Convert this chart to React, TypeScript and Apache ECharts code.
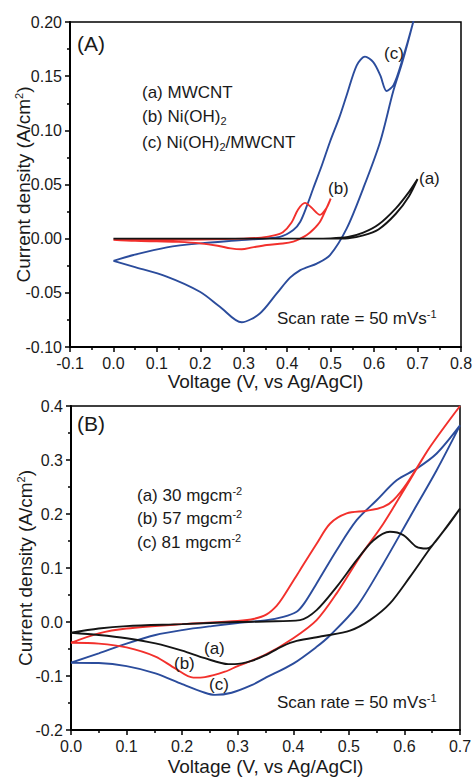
import React, { useEffect, useRef } from "react";
import * as echarts from "echarts";

const FONT = "'Liberation Sans', Arial, Helvetica, sans-serif";
const BLACK = "#151515";
const RED = "#f2302c";
const BLUE = "#2b4c9c";

// ---------- Panel A: axis ticks ----------
const aXTicks = [-0.1, 0.0, 0.1, 0.2, 0.3, 0.4, 0.5, 0.6, 0.7, 0.8];
const aYTicks = [-0.1, -0.05, 0.0, 0.05, 0.1, 0.15, 0.2];

// (a) MWCNT
const aMwcntV = [0, 0.1, 0.2, 0.3, 0.4, 0.5, 0.54, 0.575, 0.61, 0.65, 0.68, 0.7, 0.68, 0.65, 0.61, 0.575, 0.54, 0.5, 0.4, 0.3, 0.2, 0.1, 0];
const aMwcntJ = [0, 0, 0, 0, 0, 0, 0.0003, 0.003, 0.0085, 0.023, 0.039, 0.055, 0.043, 0.028, 0.013, 0.0055, 0.0015, 0.0003, 0, 0, 0, 0, 0];

// (b) Ni(OH)2
const aNiV = [0, 0.1, 0.2, 0.3, 0.34, 0.37, 0.39, 0.41, 0.425, 0.441, 0.455, 0.4755, 0.49, 0.5, 0.488, 0.4755, 0.46, 0.445, 0.43, 0.414, 0.39, 0.353, 0.32, 0.295, 0.27, 0.24, 0.2, 0.15, 0.1, 0.05, 0];
const aNiJ = [-0.001, -0.001, -0.0008, 0, 0.001, 0.003, 0.006, 0.015, 0.027, 0.033, 0.029, 0.022, 0.028, 0.037, 0.026, 0.0157, 0.0085, 0.0034, 0, -0.0028, -0.0045, -0.0058, -0.008, -0.0098, -0.009, -0.0065, -0.0043, -0.003, -0.0025, -0.002, -0.001];

// (c) Ni(OH)2/MWCNT
const aCompV = [0, 0.046, 0.123, 0.2, 0.295, 0.383, 0.414, 0.43, 0.445, 0.46, 0.48, 0.4985, 0.52, 0.537, 0.56, 0.579, 0.598, 0.614, 0.629, 0.645, 0.665, 0.69, 0.705,
  0.69, 0.665, 0.644, 0.614, 0.575, 0.537, 0.4985, 0.468, 0.445, 0.43, 0.4065, 0.376, 0.337, 0.295, 0.245, 0.199, 0.1226, 0.0457, 0];
const aCompJ = [-0.0205, -0.0151, -0.008, -0.0043, -0.0013, 0.0017, 0.008, 0.0157, 0.03, 0.0465, 0.068, 0.0895, 0.112, 0.1326, 0.16, 0.168, 0.163, 0.151, 0.1363, 0.142, 0.165, 0.2, 0.225,
  0.2, 0.163, 0.136, 0.0895, 0.0465, 0.0095, -0.0151, -0.023, -0.0265, -0.029, -0.036, -0.0505, -0.069, -0.0772, -0.0628, -0.049, -0.035, -0.0258, -0.0205];

// ---------- Panel B: axis ticks ----------
const bXTicks = [0.0, 0.1, 0.2, 0.3, 0.4, 0.5, 0.6, 0.7];
const bYTicks = [-0.2, -0.1, 0.0, 0.1, 0.2, 0.3, 0.4];

// (a) 30 mg cm-2
const b30V = [0, 0.05, 0.1, 0.2, 0.3, 0.35, 0.412, 0.442, 0.478, 0.514, 0.544, 0.574, 0.598, 0.622, 0.64, 0.67, 0.7,
  0.67, 0.646, 0.61, 0.574, 0.538, 0.502, 0.454, 0.406, 0.38, 0.349, 0.325, 0.295, 0.283, 0.241, 0.2, 0.152, 0.1, 0.05, 0];
const b30J = [-0.02, -0.012, -0.0076, -0.004, 0, 0.001, 0.0035, 0.022, 0.065, 0.1145, 0.151, 0.167, 0.161, 0.139, 0.136, 0.168, 0.21,
  0.168, 0.136, 0.0836, 0.0344, 0.0035, -0.016, -0.026, -0.035, -0.045, -0.062, -0.072, -0.078, -0.078, -0.067, -0.053, -0.0397, -0.03, -0.024, -0.02];

// (b) 57 mg cm-2
const b57V = [0, 0.05, 0.1, 0.2, 0.3, 0.33, 0.352, 0.37, 0.382, 0.412, 0.442, 0.466, 0.496, 0.532, 0.562, 0.58, 0.604, 0.646, 0.7,
  0.646, 0.61, 0.562, 0.52, 0.478, 0.442, 0.4, 0.349, 0.3, 0.277, 0.241, 0.22, 0.1875, 0.152, 0.1, 0.05, 0];
const b57J = [-0.0385, -0.021, -0.012, -0.004, 0.002, 0.006, 0.014, 0.03, 0.0466, 0.096, 0.145, 0.182, 0.201, 0.206, 0.213, 0.2255, 0.256, 0.324, 0.4,
  0.324, 0.263, 0.182, 0.121, 0.053, 0.0035, -0.03, -0.061, -0.0816, -0.092, -0.102, -0.103, -0.086, -0.064, -0.047, -0.04, -0.0385];

// (c) 81 mg cm-2
const b81V = [0, 0.05, 0.1, 0.152, 0.2, 0.2535, 0.3, 0.349, 0.382, 0.406, 0.42, 0.442, 0.478, 0.514, 0.55, 0.586, 0.622, 0.658, 0.7,
  0.658, 0.61, 0.562, 0.514, 0.466, 0.442, 0.4, 0.349, 0.325, 0.289, 0.259, 0.241, 0.2, 0.152, 0.1, 0.05, 0];
const b81J = [-0.0755, -0.058, -0.04, -0.024, -0.015, -0.0076, -0.002, 0.003, 0.0096, 0.019, 0.035, 0.0714, 0.133, 0.1885, 0.2255, 0.2625, 0.284, 0.312, 0.364,
  0.281, 0.1946, 0.108, 0.028, -0.025, -0.046, -0.077, -0.104, -0.117, -0.131, -0.135, -0.131, -0.115, -0.095, -0.0816, -0.076, -0.0755];

const zip = (v: number[], j: number[]) => v.map((x, i) => [x, j[i]]);

const richStyles = {
  sup: { fontSize: 11, fontFamily: FONT, color: "#1a1a1a", padding: [0, 0, 9, 0] },
  sub: { fontSize: 11, fontFamily: FONT, color: "#1a1a1a", padding: [9, 0, 0, 0] },
};

function xAxisFor(grid: number, ticks: number[], name: string, gap: number) {
  return {
    type: "value",
    gridIndex: grid,
    min: ticks[0],
    max: ticks[ticks.length - 1],
    interval: +(ticks[1] - ticks[0]).toFixed(4),
    name,
    nameLocation: "middle",
    nameGap: gap,
    nameMoveOverlap: false,
    nameTextStyle: { fontFamily: FONT, fontSize: 19, color: "#1a1a1a" },
    axisLine: { show: true, onZero: false, lineStyle: { color: "#000", width: 2 } },
    axisTick: { show: true, inside: false, length: 5, lineStyle: { color: "#000", width: 1.5 } },
    minorTick: { show: true, splitNumber: 2, length: 3, lineStyle: { color: "#000", width: 1.5 } },
    splitLine: { show: false },
    axisLabel: { margin: 8, fontFamily: FONT, fontSize: 16, color: "#1a1a1a", formatter: (v: number) => v.toFixed(1) },
  };
}

function yAxisFor(grid: number, ticks: number[], digits: number, gap: number) {
  return {
    type: "value",
    gridIndex: grid,
    min: ticks[0],
    max: ticks[ticks.length - 1],
    interval: +(ticks[1] - ticks[0]).toFixed(4),
    name: "Current density (A/cm{sup|2})",
    nameLocation: "middle",
    nameRotate: 90,
    nameGap: gap,
    nameMoveOverlap: false,
    nameTextStyle: { fontFamily: FONT, fontSize: 19, color: "#1a1a1a", rich: richStyles },
    axisLine: { show: true, onZero: false, lineStyle: { color: "#000", width: 2 } },
    axisTick: { show: true, inside: false, length: 5, lineStyle: { color: "#000", width: 1.5 } },
    minorTick: { show: true, splitNumber: 2, length: 3, lineStyle: { color: "#000", width: 1.5 } },
    splitLine: { show: false },
    axisLabel: { margin: 8, fontFamily: FONT, fontSize: 16, color: "#1a1a1a", formatter: (v: number) => v.toFixed(digits) },
  };
}

function line(name: string, data: number[][], color: string, xi: number, yi: number) {
  return {
    type: "line",
    name,
    xAxisIndex: xi,
    yAxisIndex: yi,
    data,
    showSymbol: false,
    symbol: "none",
    smooth: 0.3,
    clip: true,
    lineStyle: { color, width: 1.9 },
    z: 3,
  };
}

function txt(x: number, y: number, text: string, size = 17) {
  return {
    type: "text",
    x,
    y,
    z: 10,
    style: {
      text,
      fontFamily: FONT,
      fontSize: size,
      fill: "#1a1a1a",
      verticalAlign: "middle",
      align: "left",
      rich: {
        sup: { fontSize: 11, fontFamily: FONT, fill: "#1a1a1a", padding: [0, 0, 9, 0] },
        sub: { fontSize: 11, fontFamily: FONT, fill: "#1a1a1a", padding: [9, 0, 0, 0] },
        n: { fontSize: size, fontFamily: FONT, fill: "#1a1a1a" },
      },
    },
  };
}

export default function App() {
  const ref = useRef<HTMLDivElement>(null);
  useEffect(() => {
    if (!ref.current) return;
    const chart = echarts.init(ref.current, undefined, { renderer: "svg" });
    chart.setOption({
      animation: false,
      backgroundColor: "#fff",
      grid: [
        { left: 70, top: 22, width: 391, height: 325, show: true, borderColor: "#000", borderWidth: 1.5, outerBoundsMode: "none", containLabel: false },
        { left: 71, top: 406, width: 389, height: 324, show: true, borderColor: "#000", borderWidth: 1.5, outerBoundsMode: "none", containLabel: false },
      ],
      xAxis: [
        xAxisFor(0, aXTicks, "Voltage (V, vs Ag/AgCl)", 25),
        xAxisFor(1, bXTicks, "Voltage (V, vs Ag/AgCl)", 27),
      ],
      yAxis: [yAxisFor(0, aYTicks, 2, 37), yAxisFor(1, bYTicks, 1, 36)],
      series: [
        line("(c) Ni(OH)2/MWCNT", zip(aCompV, aCompJ), BLUE, 0, 0),
        line("(b) Ni(OH)2", zip(aNiV, aNiJ), RED, 0, 0),
        line("(a) MWCNT", zip(aMwcntV, aMwcntJ), BLACK, 0, 0),
        line("(c) 81 mgcm-2", zip(b81V, b81J), BLUE, 1, 1),
        line("(b) 57 mgcm-2", zip(b57V, b57J), RED, 1, 1),
        line("(a) 30 mgcm-2", zip(b30V, b30J), BLACK, 1, 1),
      ],
      graphic: [
        txt(77, 43, "(A)", 21),
        txt(142, 92, "(a) MWCNT"),
        txt(142, 116, "{n|(b) Ni(OH)}{sub|2}"),
        txt(142, 142, "{n|(c) Ni(OH)}{sub|2}{n|/MWCNT}"),
        txt(384, 53, "(c)"),
        txt(328, 188, "(b)"),
        txt(419, 178, "(a)"),
        txt(277, 318, "{n|Scan rate = 50 mVs}{sup|-1}", 17),
        txt(77, 423, "(B)", 21),
        txt(137, 495, "{n|(a) 30 mgcm}{sup|-2}"),
        txt(137, 518, "{n|(b) 57 mgcm}{sup|-2}"),
        txt(137, 542, "{n|(c) 81 mgcm}{sup|-2}"),
        txt(204, 648, "(a)"),
        txt(174, 663, "(b)"),
        txt(209, 684, "(c)"),
        txt(277, 702, "{n|Scan rate = 50 mVs}{sup|-1}", 17),
      ],
    });
    return () => chart.dispose();
  }, []);
  return (
    <div
      ref={ref}
      style={{ position: "absolute", left: 0, top: 0, width: 473, height: 779, background: "#fff" }}
    />
  );
}
